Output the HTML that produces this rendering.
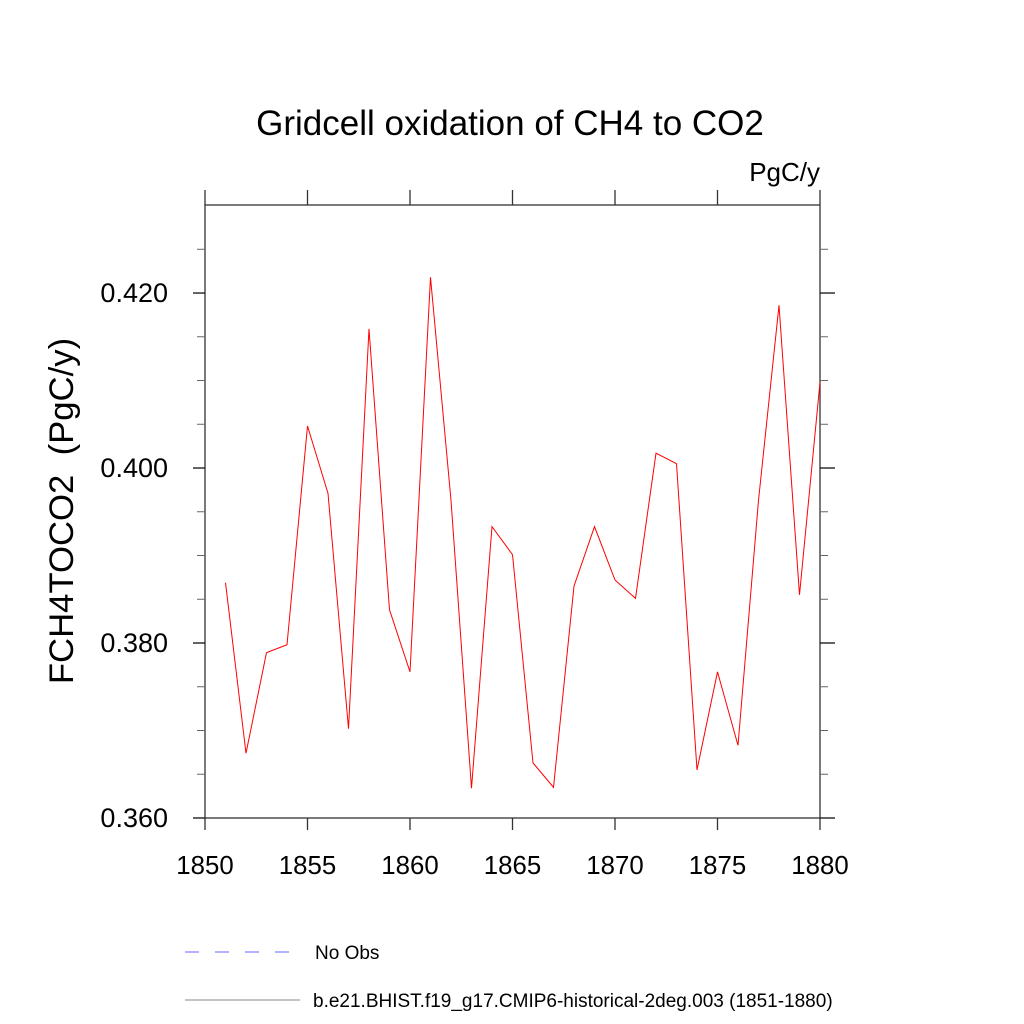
<!DOCTYPE html>
<html><head><meta charset="utf-8"><style>
body{margin:0;background:#fff}
svg{display:block;font-family:"Liberation Sans",sans-serif}
</style></head><body>
<svg id="c" width="1024" height="1024" xmlns="http://www.w3.org/2000/svg">
<text x="510" y="135" font-size="35" text-anchor="middle">Gridcell oxidation of CH4 to CO2</text>
<text x="820" y="181" font-size="26" text-anchor="end">PgC/y</text>
<text transform="translate(73,511) rotate(-90)" font-size="34.7" text-anchor="middle" xml:space="preserve" style="white-space:pre">FCH4TOCO2  (PgC/y)</text>
<g id="axes"></g>
<polyline id="series" fill="none" stroke="#ff0000" stroke-width="1"/>
<line x1="185" y1="952" x2="292" y2="952" stroke="#6666ff" stroke-width="1" stroke-dasharray="14,16"/>
<text x="315" y="959" font-size="19">No Obs</text>
<line x1="185" y1="1000" x2="300" y2="1000" stroke="#888" stroke-width="1"/>
<text x="313" y="1007" font-size="19">b.e21.BHIST.f19_g17.CMIP6-historical-2deg.003 (1851-1880)</text>
</svg>
<script>
const years=[1851,1852,1853,1854,1855,1856,1857,1858,1859,1860,1861,1862,1863,1864,1865,1866,1867,1868,1869,1870,1871,1872,1873,1874,1875,1876,1877,1878,1879,1880];
const values=[0.3869,0.3674,0.3789,0.3798,0.4048,0.3971,0.3702,0.4159,0.3838,0.3767,0.4218,0.3963,0.3634,0.3933,0.3901,0.3663,0.3635,0.3865,0.3933,0.3872,0.3851,0.4017,0.4005,0.3655,0.3767,0.3683,0.3963,0.4186,0.3855,0.4098];
const xTicks=[1850,1855,1860,1865,1870,1875,1880];
const yTicks=[0.360,0.380,0.400,0.420];
const yMinor=[0.365,0.370,0.375,0.385,0.390,0.395,0.405,0.410,0.415,0.425];
const L=205,R=820,T=205,B=818,x0=1850,x1=1880,y0=0.360,y1=0.43006;
const X=v=>L+(v-x0)/(x1-x0)*(R-L);
const Y=v=>B-(v-y0)/(y1-y0)*(B-T);
const NS="http://www.w3.org/2000/svg";
const g=document.getElementById('axes');
function ln(a,b,c,d,w,col,name){const e=document.createElementNS(NS,'line');e.setAttribute('x1',a);e.setAttribute('y1',b);e.setAttribute('x2',c);e.setAttribute('y2',d);e.setAttribute('stroke',col);e.setAttribute('stroke-width',w);


g.appendChild(e);}
function tx(x,y,s,anchor,fs,name){const e=document.createElementNS(NS,'text');e.setAttribute('x',x);e.setAttribute('y',y);e.setAttribute('font-size',fs);e.setAttribute('text-anchor',anchor);e.textContent=s;


g.appendChild(e);}
const rect=document.createElementNS(NS,'rect');rect.setAttribute('x',L);rect.setAttribute('y',T);rect.setAttribute('width',R-L);rect.setAttribute('height',B-T);rect.setAttribute('fill','none');rect.setAttribute('stroke','#333');rect.setAttribute('stroke-width','1.3');


g.appendChild(rect);
xTicks.forEach(v=>{const x=X(v);ln(x,B,x,B+12,1.3,'#333','x-tick');ln(x,T,x,T-15,1.3,'#333','x-tick-top');tx(x,B+56,String(v),'middle','25.8','x-tick-label');});
yTicks.forEach(v=>{const y=Y(v);ln(L,y,L-12,y,1.3,'#111','y-tick');ln(R,y,R+15,y,1.3,'#111','y-tick-right');tx(168,y+9,v.toFixed(3),'end','27','y-tick-label');});
yMinor.forEach(v=>{const y=Y(v);ln(L,y,L-8,y,1,'#666','y-minor-tick');ln(R,y,R+8,y,1,'#666','y-minor-tick-right');});
document.getElementById('series').setAttribute('points',years.map((y,i)=>X(y)+','+Y(values[i])).join(' '));
</script>
</body></html>
